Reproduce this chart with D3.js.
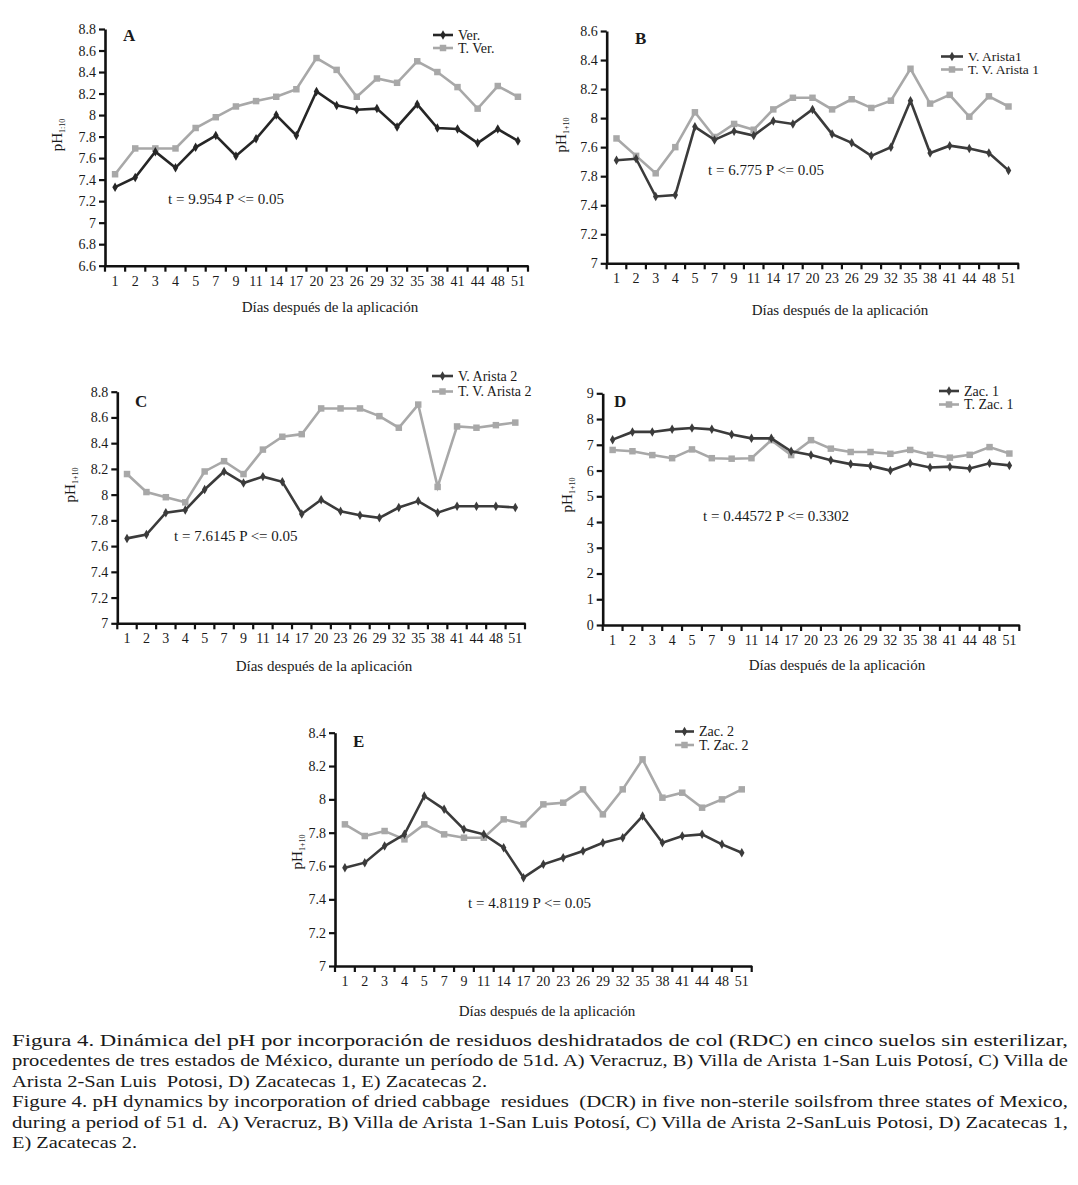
<!DOCTYPE html>
<html><head><meta charset="utf-8">
<script src="https://cdn.jsdelivr.net/npm/d3@7"></script>
<style>
body{margin:0;background:#fff}
svg text{font-family:"Liberation Serif","Times New Roman",serif;fill:#1a1a1a}
</style>
</head><body>
<svg id="c" width="1078" height="1185"></svg>
<script>
// ---------- DATA ----------
const days = ["1","2","3","4","5","7","9","11","14","17","20","23","26","29","32","35","38","41","44","48","51"];

const verA  = [7.33,7.42,7.66,7.51,7.70,7.81,7.62,7.78,8.00,7.81,8.22,8.09,8.05,8.06,7.89,8.10,7.88,7.87,7.74,7.87,7.76];
const tVerA = [7.45,7.69,7.69,7.69,7.88,7.98,8.08,8.13,8.17,8.24,8.53,8.42,8.17,8.34,8.30,8.50,8.40,8.26,8.06,8.27,8.17];

const arista1B  = [7.71,7.72,7.46,7.47,7.94,7.85,7.91,7.88,7.98,7.96,8.06,7.89,7.83,7.74,7.80,8.12,7.76,7.81,7.79,7.76,7.64];
const tArista1B = [7.86,7.74,7.62,7.80,8.04,7.87,7.96,7.92,8.06,8.14,8.14,8.06,8.13,8.07,8.12,8.34,8.10,8.16,8.01,8.15,8.08];

const arista2C  = [7.66,7.69,7.86,7.88,8.04,8.18,8.09,8.14,8.10,7.85,7.96,7.87,7.84,7.82,7.90,7.95,7.86,7.91,7.91,7.91,7.90];
const tArista2C = [8.16,8.02,7.98,7.94,8.18,8.26,8.16,8.35,8.45,8.47,8.67,8.67,8.67,8.61,8.52,8.70,8.06,8.53,8.52,8.54,8.56];

const zac1D  = [7.2,7.5,7.5,7.6,7.65,7.6,7.4,7.25,7.25,6.75,6.6,6.4,6.25,6.18,6.0,6.28,6.12,6.15,6.08,6.28,6.2];
const tZac1D = [6.8,6.75,6.6,6.48,6.82,6.48,6.46,6.48,7.18,6.6,7.18,6.85,6.72,6.72,6.65,6.8,6.61,6.5,6.61,6.91,6.66];

const zac2E  = [7.59,7.62,7.72,7.79,8.02,7.94,7.82,7.79,7.71,7.53,7.61,7.65,7.69,7.74,7.77,7.90,7.74,7.78,7.79,7.73,7.68];
const tZac2E = [7.85,7.78,7.81,7.76,7.85,7.79,7.77,7.77,7.88,7.85,7.97,7.98,8.06,7.91,8.06,8.24,8.01,8.04,7.95,8.00,8.06];

const ticksA = [6.6,6.8,7,7.2,7.4,7.6,7.8,8,8.2,8.4,8.6,8.8];
const labelsA = ["6.6","6.8","7","7.2","7.4","7.6","7.8","8","8.2","8.4","8.6","8.8"];
const ticksB = [7,7.2,7.4,7.6,7.8,8,8.2,8.4,8.6];
const labelsB = ["7","7.2","7.4","7.8","7.6","8","8.2","8.4","8.6"];
const ticksC = [7,7.2,7.4,7.6,7.8,8,8.2,8.4,8.6,8.8];
const labelsC = ["7","7.2","7.4","7.6","7.8","8","8.2","8.4","8.6","8.8"];
const ticksD = [0,1,2,3,4,5,6,7,8,9];
const labelsD = ["0","1","2","3","4","5","6","7","8","9"];
const ticksE = [7,7.2,7.4,7.6,7.8,8,8.2,8.4];
const labelsE = ["7","7.2","7.4","7.6","7.8","8","8.2","8.4"];

const xTitle = "Días después de la aplicación";

const captionLines = [
 "Figura 4. Dinámica del pH por incorporación de residuos deshidratados de col (RDC) en cinco suelos sin esterilizar,",
 "procedentes de tres estados de México, durante un período de 51d. A) Veracruz, B) Villa de Arista 1-San Luis Potosí, C) Villa de",
 "Arista 2-San Luis  Potosi, D) Zacatecas 1, E) Zacatecas 2.",
 "Figure 4. pH dynamics by incorporation of dried cabbage  residues  (DCR) in five non-sterile soilsfrom three states of Mexico,",
 "during a period of 51 d.  A) Veracruz, B) Villa de Arista 1-San Luis Potosí, C) Villa de Arista 2-SanLuis Potosi, D) Zacatecas 1,",
 "E) Zacatecas 2."
];

// ---------- DRAW ----------
const svg = d3.select("#c");
const DARK = "#3b3b3b", GREY = "#a8a8a8";

function panel(cfg){
  const g = svg.append("g");
  const x = d3.scaleBand().domain(days).range([cfg.x0, cfg.x1]);
  const y = d3.scaleLinear().domain(cfg.domain).range([cfg.yb, cfg.yt]);

  // y axis
  const ya = g.append("g").attr("transform", `translate(${cfg.x0},0)`)
    .call(d3.axisLeft(y).tickValues(cfg.ticks).tickFormat((d,i)=>cfg.labels[i]).tickSize(6).tickSizeOuter(0).tickPadding(3));
  ya.attr("font-family",null).attr("font-size",null);
  ya.select(".domain").attr("stroke","#111").attr("stroke-width",2.6);
  ya.selectAll(".tick line").attr("stroke","#111").attr("stroke-width",2.2);
  ya.selectAll("text").style("font-size","14px").attr("fill","#1a1a1a");

  // x axis (labels at band centers)
  const xa = g.append("g").attr("transform", `translate(0,${cfg.yb})`)
    .call(d3.axisBottom(x).tickSize(0).tickPadding(10).tickSizeOuter(0));
  xa.attr("font-family",null).attr("font-size",null);
  xa.select(".domain").attr("stroke","#111").attr("stroke-width",2.6);
  xa.selectAll("text").style("font-size","14px").attr("fill","#1a1a1a");
  // boundary tick marks
  const bounds = days.map(d=>x(d)).concat([cfg.x1]);
  g.selectAll(null).data(bounds).enter().append("line")
    .attr("x1",d=>d).attr("x2",d=>d).attr("y1",cfg.yb).attr("y2",cfg.yb+6)
    .attr("stroke","#111").attr("stroke-width",2.2);

  const cx = (d,i)=> x(days[i]) + x.bandwidth()/2;
  const line = d3.line().x(cx).y(d=>y(d));

  // grey (control) series
  g.append("path").datum(cfg.s2).attr("d",line).attr("fill","none").attr("stroke",GREY).attr("stroke-width",2.6);
  g.selectAll(null).data(cfg.s2).enter().append("path")
    .attr("d", d3.symbol(d3.symbolSquare, 42))
    .attr("transform",(d,i)=>`translate(${cx(d,i)},${y(d)})`).attr("fill",GREY);
  // dark series
  g.append("path").datum(cfg.s1).attr("d",line).attr("fill","none").attr("stroke",cfg.dark||DARK).attr("stroke-width",2.6);
  g.selectAll(null).data(cfg.s1).enter().append("path")
    .attr("d", d3.symbol(d3.symbolDiamond, 26))
    .attr("transform",(d,i)=>`translate(${cx(d,i)},${y(d)})`).attr("fill",cfg.dark||DARK);

  // panel letter
  g.append("text").attr("x",cfg.title[0]).attr("y",cfg.title[1]).text(cfg.letter)
    .style("font-size","17px").style("font-weight","bold");

  // legend
  const L = cfg.legend;
  [[cfg.name1, cfg.dark||DARK, d3.symbolDiamond, 26],[cfg.name2, GREY, d3.symbolSquare, 42]].forEach((e,k)=>{
    const yy = L.y + k*L.dy;
    g.append("line").attr("x1",L.x).attr("x2",L.x+L.w).attr("y1",yy).attr("y2",yy).attr("stroke",e[1]).attr("stroke-width",2.6);
    g.append("path").attr("d",d3.symbol(e[2],e[3])).attr("transform",`translate(${L.x+L.w/2},${yy})`).attr("fill",e[1]);
    g.append("text").attr("x",L.x+L.w+5).attr("y",yy+4.5).text(e[0]).style("font-size",(L.fs||14)+"px");
  });

  // annotation
  g.append("text").attr("x",cfg.ann[0]).attr("y",cfg.ann[1]).text(cfg.annText).style("font-size","15px");

  // axis titles
  g.append("text").attr("x",cfg.xt[0]).attr("y",cfg.xt[1]).attr("text-anchor","middle").text(xTitle).style("font-size","15px");
  const yl = g.append("text").attr("transform",`translate(${cfg.yl[0]},${cfg.yl[1]}) rotate(-90)`).attr("text-anchor","middle").style("font-size","15px");
  yl.append("tspan").text("pH");
  yl.append("tspan").attr("dy",3).style("font-size","8px").text(cfg.sub);
}

panel({letter:"A", x0:105, x1:528, yt:29, yb:265.7, domain:[6.6,8.8], ticks:ticksA, labels:labelsA,
  s1:verA, s2:tVerA, name1:"Ver.", name2:"T. Ver.", dark:"#262626",
  title:[123,41], legend:{x:433,y:35,dy:13,w:20}, ann:[168,204], annText:"t = 9.954 P <= 0.05",
  xt:[330,312], yl:[62,135], sub:"1:10"});

panel({letter:"B", x0:606.7, x1:1018.3, yt:31, yb:263.3, domain:[7,8.6], ticks:ticksB, labels:labelsB,
  s1:arista1B, s2:tArista1B, name1:"V. Arista1", name2:"T. V. Arista 1",
  title:[635,44], legend:{x:941,y:56.5,dy:13,w:22,fs:13.5}, ann:[708,174.5], annText:"t = 6.775 P <= 0.05",
  xt:[840,315], yl:[566,135], sub:"1+10"});

panel({letter:"C", x0:117.3, x1:525, yt:391.7, yb:623.3, domain:[7,8.8], ticks:ticksC, labels:labelsC,
  s1:arista2C, s2:tArista2C, name1:"V. Arista 2", name2:"T. V. Arista 2",
  title:[135,407], legend:{x:432,y:376,dy:15.5,w:21}, ann:[174,541], annText:"t = 7.6145 P <= 0.05",
  xt:[324,671], yl:[75,485], sub:"1+10"});

panel({letter:"D", x0:602.7, x1:1019.3, yt:393.3, yb:625, domain:[0,9], ticks:ticksD, labels:labelsD,
  s1:zac1D, s2:tZac1D, name1:"Zac. 1", name2:"T. Zac. 1",
  title:[614,407], legend:{x:939,y:391,dy:13.5,w:20}, ann:[703,521], annText:"t = 0.44572 P <= 0.3302",
  xt:[837,670], yl:[572,495], sub:"1+10"});

panel({letter:"E", x0:335, x1:751.7, yt:732.7, yb:966, domain:[7,8.4], ticks:ticksE, labels:labelsE,
  s1:zac2E, s2:tZac2E, name1:"Zac. 2", name2:"T. Zac. 2",
  title:[353,747], legend:{x:675,y:731.5,dy:13.5,w:19}, ann:[468,908], annText:"t = 4.8119 P <= 0.05",
  xt:[547,1016], yl:[302,852], sub:"1+10"});

// caption (justified lines, glyphs stretched/condensed as in the print)
const capW = [1056,1056,475,1056,1056,125];
captionLines.forEach((t,i)=>{
  svg.append("text").attr("x",12).attr("y",1046 + i*20.4).text(t)
    .style("font-size","16.5px").attr("xml:space","preserve").style("white-space","pre")
    .attr("textLength", capW[i]).attr("lengthAdjust","spacingAndGlyphs");
});
</script>
</body></html>
